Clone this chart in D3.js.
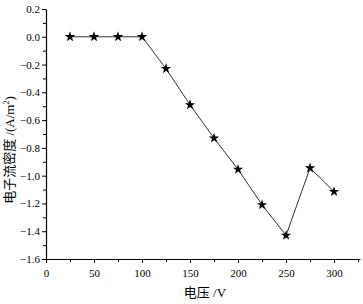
<!DOCTYPE html>
<html><head><meta charset="utf-8">
<script src="https://cdn.jsdelivr.net/npm/d3@7"></script>
<style>body{margin:0;background:#fff}svg{display:block}</style>
</head><body>
<svg id="c" width="363" height="304"></svg>
<script>
const voltage = [25, 50, 75, 100, 125, 150, 175, 200, 225, 250, 275, 300];
const density = [0, 0, 0, 0, -0.23, -0.49, -0.73, -0.955, -1.21, -1.43, -0.945, -1.115];
const xTicks = [0, 50, 100, 150, 200, 250, 300];
const yTicks = [0.2, 0, -0.2, -0.4, -0.6, -0.8, -1.0, -1.2, -1.4, -1.6];
const xLabel = "电压 /V";
const yLabel = "电子流密度 /(A/m";

const font = "'Liberation Serif','Times New Roman','Noto Sans CJK SC',serif";
const svg = d3.select("#c");
const x = d3.scaleLinear().domain([0, 327]).range([46, 360]);
const y = d3.scaleLinear().domain([-1.6, 0.2]).range([259, 9]);

const gx = svg.append("g").attr("transform", `translate(0,${y(-1.6)})`)
  .call(d3.axisBottom(x).tickValues(xTicks).tickFormat(d3.format("d")).tickSize(4).tickSizeOuter(0));
const gxm = svg.append("g").attr("transform", `translate(0,${y(-1.6)})`)
  .call(d3.axisBottom(x).tickValues(d3.range(25, 330, 50)).tickFormat("").tickSize(3).tickSizeOuter(0));
gxm.select(".domain").remove();
const gy = svg.append("g").attr("transform", `translate(${x(0)},0)`)
  .call(d3.axisLeft(y).tickValues(yTicks).tickFormat(d => d === 0 ? "0.0" : d3.format(".1f")(d)).tickSize(4).tickSizeOuter(0));
const gym = svg.append("g").attr("transform", `translate(${x(0)},0)`)
  .call(d3.axisLeft(y).tickValues(d3.range(-1.5, 0.2, 0.2).map(v => +v.toFixed(1))).tickFormat("").tickSize(3).tickSizeOuter(0));
gym.select(".domain").remove();

svg.selectAll(".domain").attr("stroke", "#000").attr("stroke-width", 1.2);
svg.selectAll(".tick line").attr("stroke", "#000").attr("stroke-width", 1);
svg.selectAll(".tick text").attr("font-family", font).attr("font-size", 11).attr("fill", "#000");
gx.selectAll(".tick text").attr("dy", "0.9em").attr("y", 8);
gy.selectAll(".tick text").attr("x", -6);

const line = d3.line().x((d, i) => x(voltage[i])).y(d => y(d));
svg.append("path").datum(density).attr("d", line)
  .attr("fill", "none").attr("stroke", "#333").attr("stroke-width", 1);

svg.selectAll(".pt").data(density).enter().append("path")
  .attr("transform", (d, i) => `translate(${x(voltage[i])},${y(d)})`)
  .attr("d", d3.symbol().type(d3.symbolStar).size(34))
  .attr("fill", "#000");

svg.append("text").attr("x", 205).attr("y", 297).attr("text-anchor", "middle")
  .attr("font-family", font).attr("font-size", 13).text(xLabel);

const yl = svg.append("text").attr("transform", "translate(14,150) rotate(-90)")
  .attr("text-anchor", "middle").attr("font-family", font).attr("font-size", 13);
yl.append("tspan").text(yLabel);
yl.append("tspan").attr("font-size", 8).attr("dy", -5).text("2");
yl.append("tspan").attr("dy", 5).text(")");
</script>
</body></html>
